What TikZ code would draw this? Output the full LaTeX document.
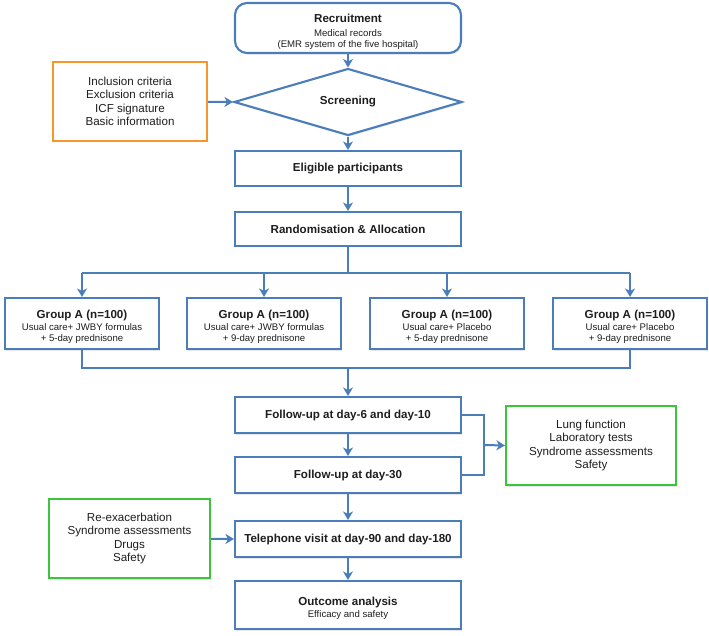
\documentclass[tikz,border=0pt]{standalone}
\usepackage{fontspec}
\setmainfont{Liberation Sans}
\usetikzlibrary{shapes.geometric,arrows.meta,shadows}
\definecolor{bl}{HTML}{4A7EBB}
\definecolor{orng}{HTML}{F7962B}
\definecolor{grn}{HTML}{3CC43C}
\definecolor{txt}{HTML}{1E1E1E}
\newcommand\hd[1]{{\fontsize{11.6}{13}\selectfont\bfseries #1}}
\begin{document}
\begin{tikzpicture}[x=1pt,y=-1pt,
  shd/.style={drop shadow={opacity=0.2,shadow xshift=1pt,shadow yshift=-1.5pt}},
  mainbox/.style={draw=bl,line width=2.1pt,fill=white,shd,minimum width=226pt,align=center,text=txt,inner sep=2pt,
     font=\fontsize{9.6}{11.5}\selectfont},
  grpbox/.style={mainbox,minimum width=154pt,minimum height=51pt,font=\fontsize{9.6}{10.5}\selectfont},
  sidebox/.style={draw=#1,line width=2.1pt,fill=white,shd,align=center,text=txt,
     font=\fontsize{11.6}{13.5}\selectfont},
  ln/.style={draw=bl,line width=2pt},
  arr/.style={ln,-{Stealth[length=8.5pt,width=10pt,inset=2.5pt]}}]
\useasboundingbox (0,0) rectangle (709,636);

\node[mainbox,rounded corners=12pt,minimum height=50pt] (rec) at (348,28)
  {\rule{0pt}{16pt}\hd{Recruitment}\\[2.5pt]Medical records\\(EMR system of the five hospital)};
\node[draw=bl,line width=2.1pt,fill=white,shd,diamond,minimum width=228pt,minimum height=52pt,inner sep=0pt,text=txt] (scr) at (348,102)
  {\hd{Screening}};
\node[sidebox=orng,minimum width=154pt,minimum height=79pt] (inc) at (130,101.5)
  {Inclusion criteria\\Exclusion criteria\\ICF signature\\Basic information};
\node[mainbox,minimum height=35pt] (eli) at (348,168.5) {\hd{Eligible participants}};
\node[mainbox,minimum height=34pt] (ran) at (348,229) {\hd{Randomisation \& Allocation}};

\node[grpbox] (g1) at (82,323.5) {\rule{0pt}{14pt}\hd{Group A (n=100)}\\[2pt]Usual care+ JWBY formulas\\+ 5-day prednisone};
\node[grpbox] (g2) at (264,323.5) {\rule{0pt}{14pt}\hd{Group A (n=100)}\\[2pt]Usual care+ JWBY formulas\\+ 9-day prednisone};
\node[grpbox] (g3) at (447,323.5) {\rule{0pt}{14pt}\hd{Group A (n=100)}\\[2pt]Usual care+ Placebo\\+ 5-day prednisone};
\node[grpbox] (g4) at (630,323.5) {\rule{0pt}{14pt}\hd{Group A (n=100)}\\[2pt]Usual care+ Placebo\\+ 9-day prednisone};

\node[mainbox,minimum height=36pt] (fu1) at (348,415) {\hd{Follow-up at day-6 and day-10}};
\node[mainbox,minimum height=36pt] (fu2) at (348,475) {\hd{Follow-up at day-30}};
\node[mainbox,minimum height=36pt] (tel) at (348,539) {\hd{Telephone visit at day-90 and day-180}};
\node[mainbox,minimum height=48pt] (out) at (348,605) {\rule{0pt}{15pt}\hd{Outcome analysis}\\[1pt]Efficacy and safety};

\node[sidebox=grn,minimum width=170pt,minimum height=79pt] (lung) at (591,445.5)
  {Lung function\\Laboratory tests\\Syndrome assessments\\Safety};
\node[sidebox=grn,minimum width=161pt,minimum height=79pt] (reex) at (129.5,538.5)
  {Re-exacerbation\\Syndrome assessments\\Drugs\\Safety};

\coordinate (bus) at (348,273);
\coordinate (bus2) at (348,368);
\coordinate (br) at (484,445);

\draw[arr] (rec) -- (scr);
\draw[arr] (inc) -- (scr.west);
\draw[arr] (scr) -- (eli);
\draw[arr] (eli) -- (ran);
\draw[ln] (ran) -- (bus);
\draw[ln] (g1.north |- bus) -- (g4.north |- bus);
\draw[arr] (g1.north |- bus) -- (g1.north);
\draw[arr] (g2.north |- bus) -- (g2.north);
\draw[arr] (g3.north |- bus) -- (g3.north);
\draw[arr] (g4.north |- bus) -- (g4.north);
\draw[ln] (g1.south) -- (g1.south |- bus2) -- (g4.south |- bus2) -- (g4.south);
\draw[arr] (bus2) -- (fu1);
\draw[arr] (fu1) -- (fu2);
\draw[ln] (fu1.east) -| (br) |- (fu2.east);
\draw[arr] (br) -- (lung.west);
\draw[arr] (fu2) -- (tel);
\draw[arr] (reex) -- (tel.west);
\draw[arr] (tel) -- (out);
\end{tikzpicture}
\end{document}
